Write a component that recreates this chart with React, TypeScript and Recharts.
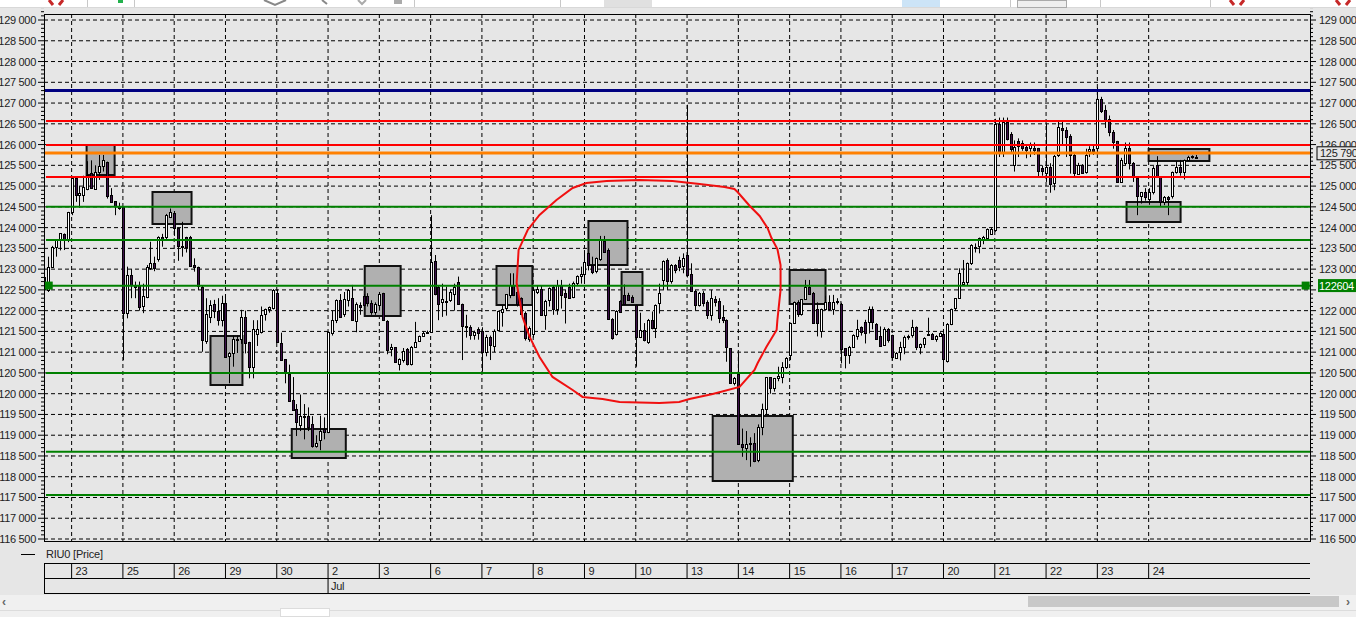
import {
  Bar,
  CartesianGrid,
  ComposedChart,
  ReferenceArea,
  ReferenceDot,
  ReferenceLine,
  Scatter,
  XAxis,
  YAxis,
} from "recharts";

// each candle: open, high, low, close
const jun22 = [
  [122800, 123300, 122450, 122500], [122500, 123300, 122450, 123060], [123060, 123560, 123050, 123540],
  [123540, 123720, 123300, 123700], [123720, 123860, 123450, 123860], [123840, 123860, 123460, 123720],
  [123720, 124380, 123650, 124380],
];
const jun23 = [
  [124380, 125190, 124300, 125190], [125190, 125190, 124620, 124790], [124790, 125000, 124480, 124840],
  [124790, 125250, 124620, 124980], [124940, 125600, 124900, 125270], [125310, 125620, 124940, 124940],
  [124950, 125500, 124950, 125350], [125350, 125750, 125150, 125490], [125490, 125750, 125350, 125630],
  [125570, 125590, 124700, 124750], [124790, 124950, 124630, 124630], [124640, 124640, 124300, 124520],
  [124520, 124600, 124430, 124470],
];
const jun25 = [
  [124490, 124500, 120810, 121930], [121935, 123060, 121815, 122860], [122860, 123000, 122300, 122620],
  [122620, 122700, 122300, 122580], [122620, 122700, 122000, 122100], [122100, 122650, 121940, 122350],
  [122340, 123100, 122300, 123060], [123020, 123660, 122980, 123140], [123140, 123300, 122950, 123030],
  [123260, 123790, 123180, 123780], [123780, 123850, 123540, 123740], [123760, 124330, 123720, 124300],
  [124260, 124460, 124230, 124380],
];
const jun26 = [
  [124360, 124400, 123800, 123990], [123990, 124000, 123200, 123560], [123560, 124140, 123300, 123530],
  [123770, 123780, 123400, 123540], [123780, 123800, 123080, 123080], [123100, 123260, 122940, 123050],
  [123060, 123060, 122500, 122600], [122560, 122600, 121010, 121290], [121290, 122300, 121200, 121930],
  [121840, 122250, 121700, 122140], [122160, 122260, 121820, 121980], [121980, 122300, 121640, 121760],
  [121760, 122360, 121620, 122180],
];
const jun29 = [
  [122180, 122400, 120870, 120890], [120890, 121000, 120250, 120970], [120970, 121400, 120650, 121310],
  [121290, 121400, 120980, 121310], [121310, 122020, 121200, 121850], [121850, 122000, 120970, 121230],
  [121250, 121250, 120370, 120650], [120650, 121770, 120370, 121570], [121450, 121770, 121150, 121570],
  [121490, 122100, 121450, 121890], [121900, 122050, 121760, 122030], [122020, 122100, 121950, 122080],
  [122060, 122520, 122030, 122500],
];
const jun30 = [
  [122420, 122510, 121250, 121250], [121230, 121470, 120830, 120830], [120830, 120830, 120250, 120510],
  [120480, 120700, 119830, 119830], [119860, 120400, 119610, 119610], [119620, 119750, 118980, 119300],
  [119240, 119980, 119100, 119460], [119460, 119750, 118900, 119430], [119460, 119670, 119100, 119200],
  [119260, 119460, 118700, 118740], [118750, 119000, 118700, 118820], [118890, 119470, 118640, 119110],
  [119140, 119430, 118900, 119060],
];
const jul2 = [
  [119085, 121500, 119050, 121490], [121470, 122000, 121400, 121775], [121775, 122270, 121700, 122260],
  [122260, 122400, 121840, 121855], [121920, 122450, 121850, 122270], [122250, 122520, 122100, 122500],
  [122300, 122620, 121760, 121760], [121760, 122200, 121480, 122170], [122130, 122200, 121900, 122080],
  [122350, 122400, 122100, 122130], [122350, 122420, 122100, 122170], [122190, 122250, 121900, 121980],
  [121980, 122200, 121900, 122170],
];
const jul3 = [
  [122130, 122450, 122000, 122400], [122420, 122430, 121750, 121770], [121760, 121770, 120950, 121050],
  [121080, 121200, 120900, 121120], [121120, 121120, 120750, 120770], [120700, 120850, 120560, 120830],
  [120830, 121100, 120750, 121040], [121070, 121100, 120680, 120710], [120720, 121150, 120680, 121130],
  [121130, 121730, 121100, 121250], [121280, 121400, 121270, 121390], [121390, 121500, 121380, 121470],
  [121470, 121520, 121440, 121490],
];
const jul6 = [
  [121490, 124300, 121470, 123180], [123200, 123340, 122370, 122400], [122580, 122600, 121770, 122160],
  [122190, 122650, 121850, 122270], [122240, 122580, 121880, 122230], [122240, 122500, 122210, 122440],
  [122400, 122650, 122000, 122560], [122700, 122820, 122150, 122160], [122160, 122170, 120810, 121620],
  [121620, 121900, 121350, 121600], [121600, 121650, 121300, 121410], [121400, 121520, 121300, 121480],
  [121550, 121600, 121300, 121450],
];
const jul7 = [
  [121510, 121600, 120530, 121010], [121010, 121420, 120900, 121370], [121370, 121400, 120810, 121170],
  [121170, 121550, 121000, 121520], [121520, 122000, 121500, 121980], [121980, 122130, 121615, 122050],
  [122050, 122400, 122000, 122390], [122380, 122900, 122300, 122620], [122620, 122900, 122350, 122390],
  [122450, 122500, 122100, 122150], [122300, 122320, 121900, 121920], [121940, 121980, 121280, 121330],
  [121330, 121620, 121250, 121590],
];
const jul8 = [
  [121450, 122560, 121350, 122500], [122440, 122600, 122400, 122520], [122530, 122600, 121880, 121900],
  [121900, 122260, 121540, 122240], [122240, 122560, 122100, 122540], [122560, 122600, 121900, 122030],
  [122030, 122740, 121900, 122620], [122620, 122740, 122050, 122380], [122420, 122500, 121690, 122320],
  [122580, 122650, 122300, 122320], [122320, 122700, 122300, 122660], [122650, 122850, 122600, 122830],
  [122830, 123060, 122650, 122880],
];
const jul9 = [
  [122880, 123460, 122660, 123180], [123380, 123400, 122970, 123100], [123100, 123300, 122880, 122920],
  [122940, 123280, 122900, 123260], [123240, 123800, 123200, 123700], [123680, 123800, 123400, 123420],
  [123460, 123500, 121800, 121810], [121810, 121820, 121300, 121350], [121440, 122010, 121400, 122000],
  [122240, 122250, 121950, 121970], [122380, 122630, 122150, 122160], [122380, 122430, 122250, 122270],
  [122330, 122370, 122200, 122220],
];
const jul10 = [
  [122130, 122150, 120650, 121370], [121370, 121950, 121340, 121530], [121530, 121700, 121260, 121280],
  [121250, 121800, 121200, 121780], [121770, 121980, 121550, 121570], [121570, 122150, 121340, 122130],
  [122190, 122650, 121930, 122430], [122740, 123210, 122500, 123200], [123230, 123260, 122500, 122720],
  [122720, 123120, 122650, 123100], [123100, 123120, 122900, 122980], [123230, 123300, 122950, 123060],
  [123060, 123380, 122900, 123260],
];
const jul13 = [
  [123340, 126960, 122800, 122860], [122880, 123140, 122470, 122480], [122480, 122500, 122000, 122150],
  [122150, 122450, 122100, 122430], [122430, 122470, 122100, 122190], [122200, 122250, 121800, 121880],
  [121880, 122500, 121760, 122300], [122270, 122350, 122100, 122200], [122230, 122300, 121700, 121810],
  [121840, 122130, 121700, 121760], [121770, 121790, 120770, 121120], [121090, 121100, 120240, 120250],
  [120250, 120400, 120200, 120370],
];
const jul14 = [
  [120480, 120970, 118790, 118790], [118790, 119160, 118480, 118710], [118710, 119100, 118400, 118800],
  [118820, 118950, 118240, 118790], [118820, 119050, 118350, 118390], [118400, 119260, 118350, 119200],
  [119190, 119760, 119000, 119620], [119620, 120400, 119500, 120390], [120390, 120400, 120000, 120130],
  [120130, 120380, 120050, 120370], [120370, 120650, 120300, 120430], [120410, 120760, 120250, 120650],
  [120650, 120880, 120600, 120870],
];
const jul15 = [
  [120930, 121710, 120810, 121710], [121710, 122220, 121690, 122220], [122200, 122250, 121850, 121900],
  [121900, 122280, 121880, 122270], [122300, 122740, 122260, 122580], [122580, 122740, 122400, 122420],
  [122430, 122450, 121700, 121710], [122050, 122200, 121380, 121710], [121520, 122050, 121350, 122050],
  [122050, 122360, 122000, 122210], [122200, 122370, 122000, 122030], [122030, 122380, 121900, 122200],
  [122220, 122300, 122150, 122240],
];
const jul16 = [
  [122170, 122190, 120730, 121090], [121090, 121100, 120610, 120930], [120930, 121150, 120720, 121130],
  [121130, 121430, 121100, 121410], [121410, 121780, 121300, 121570], [121600, 121620, 121400, 121480],
  [121720, 121780, 121210, 121450], [121720, 122100, 121450, 122030], [122030, 122100, 121550, 121720],
  [121690, 121700, 121300, 121320], [121400, 121620, 121130, 121150], [121170, 121600, 121150, 121560],
  [121550, 121580, 121230, 121290],
];
const jul17 = [
  [121410, 121420, 120800, 120870], [120870, 121000, 120840, 120990], [121000, 121250, 120800, 121130],
  [121130, 121400, 120950, 121370], [121390, 121420, 121300, 121400], [121400, 121780, 121350, 121600],
  [121600, 121620, 121050, 121120], [121120, 121210, 120950, 121200], [121200, 121360, 121100, 121350],
  [121430, 121830, 121400, 121440], [121440, 121460, 121320, 121330], [121330, 121410, 121250, 121400],
  [121400, 121480, 121380, 121470],
];
const jul20 = [
  [121440, 121480, 120530, 120830], [120810, 121700, 120750, 121690], [121690, 122050, 121650, 122050],
  [122050, 122300, 122000, 122300], [122300, 123020, 122280, 122900], [122640, 123220, 122600, 122700],
  [122700, 123160, 122600, 123150], [123150, 123600, 123100, 123580], [123520, 123620, 123400, 123540],
  [123540, 123760, 123380, 123740], [123740, 123800, 123600, 123780], [123750, 123980, 123700, 123970],
  [123860, 124000, 123840, 123970],
];
const jul21 = [
  [123950, 126620, 123900, 126500], [126500, 126650, 125700, 125800], [125800, 126650, 125700, 126550],
  [126550, 126650, 126100, 126150], [126250, 126300, 125800, 125900], [125510, 126100, 125350, 125950],
  [126080, 126150, 125700, 125970], [126030, 126100, 125850, 125910], [125950, 126000, 125670, 125870],
  [125900, 126050, 125700, 125980], [125920, 126050, 125750, 125870], [125910, 125920, 125200, 125350],
  [125430, 125500, 125250, 125350],
];
const jul22 = [
  [125320, 126510, 125100, 125470], [125470, 125550, 124840, 125070], [125070, 125750, 124900, 125720],
  [125750, 126550, 125700, 126430], [126410, 126550, 126000, 126360], [126360, 126420, 125700, 126190],
  [126200, 126250, 125300, 125750], [125750, 125800, 125200, 125310], [125310, 125560, 125270, 125520],
  [125520, 125530, 125300, 125320], [125350, 125900, 125300, 125750], [125850, 125960, 125700, 125900],
  [125900, 125980, 125750, 125850],
];
const jul23 = [
  [125910, 127380, 125800, 127090], [127090, 127150, 126760, 126790], [126830, 126950, 126400, 126590],
  [126610, 126700, 126200, 126290], [126310, 126350, 125900, 126080], [126080, 126090, 125100, 125100],
  [125100, 125680, 125080, 125640], [125550, 126050, 125500, 125910], [125910, 126050, 125400, 125550],
  [125550, 125580, 125100, 125230], [125190, 125200, 124300, 124760], [124760, 124860, 124580, 124860],
  [124860, 124950, 124650, 124730],
];
const jul24 = [
  [124690, 124950, 124550, 124860], [124860, 125480, 124800, 125430], [125510, 125720, 125200, 125230],
  [125230, 125240, 124500, 124620], [124620, 124760, 124540, 124730], [124740, 124760, 124300, 124700],
  [124770, 125350, 124700, 125340], [125340, 125600, 125300, 125470], [125450, 125630, 125250, 125340],
  [125340, 125640, 125160, 125630], [125630, 125730, 125600, 125710], [125715, 125740, 125660, 125690],
  [125710, 125750, 125660, 125690],
];

const days = [
  jun22, jun23, jun25, jun26, jun29, jun30, jul2, jul3, jul6, jul7, jul8, jul9, jul10, jul13, jul14, jul15,
  jul16, jul17, jul20, jul21, jul22, jul23, jul24,
];

const candles = days.flat().map(([open, high, low, close], i) => ({ i, open, high, low, close }));

const dayTicks = [7, 20, 33, 46, 59, 72, 85, 98, 111, 124, 137, 150, 163, 176, 189, 202, 215, 228, 241, 254, 267, 280];
const dayLabels = ["23", "25", "26", "29", "30", "2", "3", "6", "7", "8", "9", "10", "13", "14", "15", "16", "17", "20", "21", "22", "23", "24"];

const priceTicks = [
  116500, 117000, 117500, 118000, 118500, 119000, 119500, 120000, 120500, 121000, 121500, 122000, 122500,
  123000, 123500, 124000, 124500, 125000, 125500, 126000, 126500, 127000, 127500, 128000, 128500, 129000,
];
const minorSteps = [0, 100, 200, 300, 400];
const allPriceTicks = priceTicks.flatMap((p) => minorSteps.map((s) => p + s));

const redLevels = [126570, 125990, 125220];
const greenLevels = [124500, 123700, 122600, 120500, 118600, 117560];
const blueLevel = 127300;
const orangeLevel = 125795;
const lastPrice = 125790;
const markerPrice = 122604;

// left, right (candle index) and top, bottom (price) of the grey boxes
const boxes = [
  [10.8, 17.9, 125990, 125268],
  [27.5, 37.4, 124858, 124088],
  [42.2, 50.3, 121391, 120211],
  [62.8, 76.5, 119151, 118453],
  [81.3, 90.4, 123076, 121872],
  [114.7, 123.8, 123076, 122137],
  [138, 147.9, 124160, 123100],
  [146.4, 151.7, 122932, 122137],
  [169.5, 189.8, 119464, 117899],
  [189, 198.1, 122980, 122161],
  [274.4, 288.1, 124617, 124136],
  [280, 295.4, 125894, 125605],
];

// hand drawn red loop
const loopIndex = [
  175.8, 178.9, 181.4, 183.4, 184.4, 185.9, 186.7, 186.7, 185.9, 185.7, 183.1, 180.9, 180.1, 176.3, 169.5, 163.6,
  161, 156, 145.9, 141.6, 136.5, 134, 128.9, 125.6, 123.1, 121.3, 119.8, 120.3, 122.6, 125.6, 129.9, 134, 137.5,
  142.6, 151, 159.3, 166.2, 172.5, 175, 175.8,
];
const loopPrice = [
  124858, 124521, 124280, 123991, 123750, 123485, 123100, 122498, 121776, 121535, 121126, 120740, 120572, 120163,
  119994, 119874, 119801, 119777, 119801, 119874, 119922, 120090, 120403, 120885, 121367, 121848, 122667, 123462,
  123943, 124304, 124666, 124955, 125075, 125123, 125147, 125123, 125051, 124979, 124930, 124858,
];
const loop = loopIndex.map((i, n) => ({ i, price: loopPrice[n] }));

const X_MAX = 320.9;
const FONT = "'Liberation Sans', Arial, sans-serif";
const labelStyle = { fontSize: 11, letterSpacing: -0.3, fontFamily: FONT, fill: "#222" };

const fmtPrice = (v: number) => `${Math.floor(v / 1000)} ${String(v % 1000).padStart(3, "0")}`;

const Candle = (props: any) => {
  const { x, y, width, height, payload } = props;
  const cx = Math.round(x + width / 2) + 0.5;
  const perUnit = height / (payload.high - payload.low || 1);
  const openY = y + (payload.high - payload.open) * perUnit;
  const closeY = y + (payload.high - payload.close) * perUnit;
  const up = payload.close >= payload.open;
  const top = Math.round(Math.min(openY, closeY)) + 0.5;
  const bodyH = Math.max(Math.round(Math.abs(closeY - openY)), 1);
  return (
    <g>
      <line x1={cx} x2={cx} y1={y} y2={y + height} stroke="#000" />
      <rect x={cx - 1} y={top} width={2} height={bodyH} fill={up ? "#fff" : "#3d0f4a"} stroke="#000" />
    </g>
  );
};

const PriceTick = ({ x, y, payload, side }: any) => {
  const major = payload.value % 500 === 0;
  const dir = side === "left" ? -1 : 1;
  // on the right the green marker tag hides 122 500 and the last price tag cuts 126 000
  const hidden = side === "right" && payload.value === 122500;
  const cut = side === "right" && payload.value === 126000;
  return (
    <g>
      <line x1={x} x2={x + dir * (major ? 6 : 3)} y1={y} y2={y} stroke="#000" />
      {cut && (
        <clipPath id="above-last-tag">
          <rect x={x} y={y - 8} width={50} height={10} />
        </clipPath>
      )}
      {major && !hidden && (
        <text
          x={x + dir * (side === "left" ? 8 : 9)}
          y={y + 4}
          textAnchor={side === "left" ? "end" : "start"}
          clipPath={cut ? "url(#above-last-tag)" : undefined}
          {...labelStyle}
        >
          {fmtPrice(payload.value)}
        </text>
      )}
    </g>
  );
};

const DayTick = ({ x, y, payload, index }: any) => (
  <g>
    <line x1={x} x2={x} y1={y + 22} y2={y + 37} stroke="#000" />
    <text x={x + 4} y={y + 34} {...labelStyle}>
      {dayLabels[index]}
    </text>
    {payload.value === 72 && (
      <g>
        <line x1={x} x2={x} y1={y + 37} y2={y + 52} stroke="#000" />
        <text x={x + 3} y={y + 49} {...labelStyle}>
          Jul
        </text>
      </g>
    )}
  </g>
);

const Square = ({ cx, cy }: any) => <rect x={cx - 4} y={cy - 4} width={8} height={8} fill="#008000" />;

const LastTag = ({ cx, cy }: any) => (
  <g>
    <rect x={cx + 7} y={cy - 6.5} width={60} height={13} fill="#e6e6e6" stroke="#000" />
    <text x={cx + 10} y={cy + 4} {...labelStyle}>
      {fmtPrice(lastPrice)}
    </text>
  </g>
);

const MarkerTag = ({ cx, cy }: any) => (
  <g>
    <rect x={cx + 8} y={cy - 6.5} width={38} height={13} fill="#008000" />
    <text x={cx + 9} y={cy + 4} {...labelStyle} fill="#fff">
      {markerPrice}
    </text>
  </g>
);

const hr = (top: number): any => ({ position: "absolute", left: 44, top, width: 1266, height: 1, background: "#000" });

const App = () => {
  return (
    <div style={{ position: "absolute", left: 0, top: 0, width: 1356, height: 617, overflow: "hidden", background: "#e6e6e6" }}>
      <ComposedChart
        width={1356}
        height={617}
        data={candles}
        margin={{ top: 14, right: 0, bottom: 0, left: 0 }}
        barSize={3}
      >
        <CartesianGrid
          stroke="#000"
          strokeDasharray="4 3"
          horizontalValues={priceTicks}
          verticalValues={dayTicks}
        />
        <XAxis
          dataKey="i"
          type="number"
          domain={[0, X_MAX]}
          allowDataOverflow
          ticks={dayTicks}
          interval={0}
          height={76}
          tickLine={false}
          axisLine={false}
          tickSize={0}
          tickMargin={0}
          tick={<DayTick />}
        />
        <YAxis
          type="number"
          domain={[116452, 129145]}
          allowDataOverflow
          ticks={allPriceTicks}
          interval={0}
          width={44}
          tickLine={false}
          axisLine={false}
          tickSize={0}
          tickMargin={0}
          tick={<PriceTick side="left" />}
        />
        <YAxis
          yAxisId="right"
          orientation="right"
          type="number"
          domain={[116452, 129145]}
          allowDataOverflow
          ticks={allPriceTicks}
          interval={0}
          width={46}
          tickLine={false}
          axisLine={false}
          tickSize={0}
          tickMargin={0}
          tick={<PriceTick side="right" />}
        />
        {boxes.map(([x1, x2, y1, y2], n) => (
          <ReferenceArea
            key={n}
            x1={x1}
            x2={x2}
            y1={y1}
            y2={y2}
            fill="#b0b0b0"
            fillOpacity={1}
            stroke="#111"
            strokeWidth={2}
          />
        ))}
        <Bar dataKey={(d: any) => [d.low, d.high]} shape={<Candle />} isAnimationActive={false} />
        {greenLevels.map((y) => (
          <ReferenceLine key={y} segment={[{ x: 0.5, y }, { x: X_MAX, y }]} stroke="#008000" strokeWidth={2} />
        ))}
        {redLevels.map((y) => (
          <ReferenceLine key={y} segment={[{ x: 0.5, y }, { x: X_MAX, y }]} stroke="#ff0000" strokeWidth={2} />
        ))}
        <ReferenceLine y={orangeLevel} stroke="#ff8000" strokeWidth={3} />
        <ReferenceLine y={blueLevel} stroke="#000080" strokeWidth={3} />
        <Scatter
          data={loop}
          dataKey="price"
          line={{ stroke: "#f01010", strokeWidth: 2 }}
          shape={() => null}
          isAnimationActive={false}
        />
        <ReferenceDot x={1.2} y={markerPrice} ifOverflow="visible" shape={<Square />} />
        <ReferenceDot x={319.8} y={markerPrice} ifOverflow="visible" shape={<Square />} />
        <ReferenceDot x={X_MAX} y={lastPrice} ifOverflow="visible" shape={<LastTag />} />
        <ReferenceDot x={X_MAX} y={markerPrice} ifOverflow="visible" shape={<MarkerTag />} />
      </ComposedChart>

      {/* plot frame */}
      <div style={{ position: "absolute", left: 44, top: 14, width: 1265, height: 526, border: "1px solid #000", pointerEvents: "none" }} />

      {/* legend */}
      <div style={{ position: "absolute", left: 21, top: 554, width: 14, height: 1, background: "#000" }} />
      <div style={{ position: "absolute", left: 46, top: 547, fontFamily: FONT, fontSize: 11, letterSpacing: -0.2, lineHeight: "14px", color: "#222" }}>
        RIU0 [Price]
      </div>

      {/* date table */}
      <div style={hr(563)} />
      <div style={hr(578)} />
      <div style={hr(593)} />
      <div style={{ position: "absolute", left: 44, top: 563, width: 1, height: 30, background: "#000" }} />

      {/* window chrome */}
      <div style={{ position: "absolute", left: 0, top: 0, width: 1356, height: 7, background: "#fff", borderBottom: "1px solid #d8d8d8" }} />
      <svg style={{ position: "absolute", left: 0, top: 0 }} width={1356} height={7}>
        {[56, 1237, 1343].map((x) => (
          <path key={x} d={`M${x - 7} 0 L${x - 3} 5 M${x + 7} 0 L${x + 3} 5`} stroke="#c62828" strokeWidth={3} fill="none" />
        ))}
        <rect x={118} y={0} width={5} height={3} fill="#22b14c" />
        <path d="M264 0 L275 5 L286 0" stroke="#888" strokeWidth={2} fill="none" />
        <path d="M322 0 L327 4" stroke="#888" strokeWidth={2} fill="none" />
        <path d="M358 0 L362 4 L366 0" stroke="#aaa" strokeWidth={2} fill="none" />
        <rect x={394} y={0} width={8} height={4} fill="#aaa" />
        {[87, 134, 414, 560, 1010, 1100, 1210].map((x) => (
          <rect key={x} x={x} y={0} width={1} height={7} fill="#c8c8c8" />
        ))}
      </svg>
      <div style={{ position: "absolute", left: 604, top: 0, width: 48, height: 7, background: "#e0e0e0" }} />
      <div style={{ position: "absolute", left: 902, top: 0, width: 38, height: 7, background: "#cce4f7" }} />
      <div style={{ position: "absolute", left: 1017, top: 0, width: 50, height: 8, background: "#efefef", border: "1px solid #aaa", boxSizing: "border-box" }} />

      <div style={{ position: "absolute", left: 0, top: 595, width: 1356, height: 22, background: "#f0f0f0" }} />
      <div style={{ position: "absolute", left: 1028, top: 596, width: 311, height: 11, background: "#c8c8c8" }} />
      <div style={{ position: "absolute", left: 2, top: 595, fontFamily: FONT, fontSize: 12, fontWeight: 700, color: "#666" }}>‹</div>
      <div style={{ position: "absolute", left: 1346, top: 595, fontFamily: FONT, fontSize: 12, fontWeight: 700, color: "#666" }}>›</div>
      <div style={{ position: "absolute", left: 0, top: 610, width: 1356, height: 1, background: "#dcdcdc" }} />
      <div style={{ position: "absolute", left: 280, top: 608, width: 50, height: 9, background: "#fff", border: "1px solid #dcdcdc", boxSizing: "border-box" }} />
    </div>
  );
};

export default App;
